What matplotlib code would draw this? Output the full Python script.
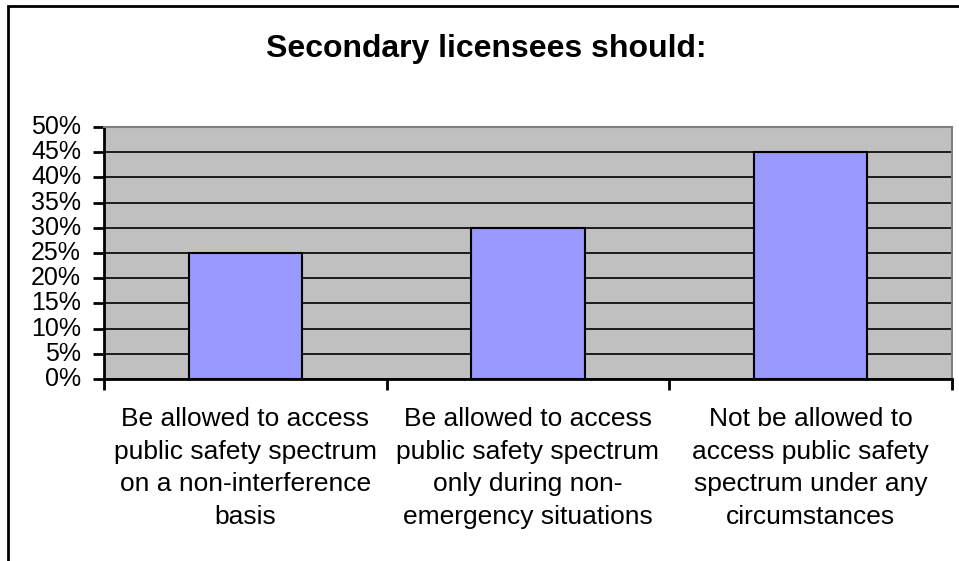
import matplotlib
matplotlib.use("Agg")
import matplotlib.pyplot as plt
from matplotlib.patches import Rectangle
from matplotlib.ticker import FuncFormatter, MultipleLocator

plt.rcParams['font.family'] = ['Liberation Sans', 'DejaVu Sans']

categories = [
    "Be allowed to access\npublic safety spectrum\non a non-interference\nbasis",
    "Be allowed to access\npublic safety spectrum\nonly during non-\nemergency situations",
    "Not be allowed to\naccess public safety\nspectrum under any\ncircumstances",
]
values = [0.25, 0.30, 0.45]
title = "Secondary licensees should:"

W, H = 959, 561
fig = plt.figure(figsize=(W / 100, H / 100), dpi=100)

# outer chart frame
fig.patches.append(Rectangle((8 / W, -0.01), 1.2, 1 - 6 / H + 0.01,
                             transform=fig.transFigure, fill=False,
                             edgecolor='black', linewidth=2))

ax = fig.add_axes([104 / W, 1 - 379 / H, (952 - 104) / W, (379 - 127) / H])
ax.set_facecolor('#C0C0C0')

x = list(range(len(values)))
ax.bar(x, values, width=0.4, color='#9999FF', edgecolor='black',
       linewidth=1.5, zorder=3)

ax.set_xlim(-0.5, len(values) - 0.5)
ax.set_ylim(0, 0.5)
ax.yaxis.set_major_locator(MultipleLocator(0.05))
ax.yaxis.set_major_formatter(FuncFormatter(lambda v, p: f"{v * 100:.0f}%"))
ax.grid(axis='y', color='black', linewidth=1.2, zorder=1)
ax.set_axisbelow(True)

# category ticks at the boundaries, labels at centres
ax.set_xticks([i - 0.5 for i in range(len(values) + 1)])
ax.set_xticklabels([])
ax.set_xticks(x, minor=True)
ax.set_xticklabels(categories, minor=True, fontsize=19, linespacing=1.46)
ax.tick_params(axis='x', which='minor', length=0, pad=20)
ax.tick_params(axis='x', which='major', length=8, width=2, direction='out')
ax.tick_params(axis='y', length=8, width=2, direction='out', labelsize=18, pad=8.5)
for lbl in ax.get_yticklabels():
    lbl.set_verticalalignment('center')

for side in ('left', 'bottom'):
    ax.spines[side].set_linewidth(2)
    ax.spines[side].set_color('black')
for side in ('top', 'right'):
    ax.spines[side].set_linewidth(1.5)
    ax.spines[side].set_color('#808080')

fig.text(486 / W, 1 - 49 / H, title, ha='center', va='center',
         fontsize=23, fontweight='bold')

fig.savefig("out.png", dpi=100)
